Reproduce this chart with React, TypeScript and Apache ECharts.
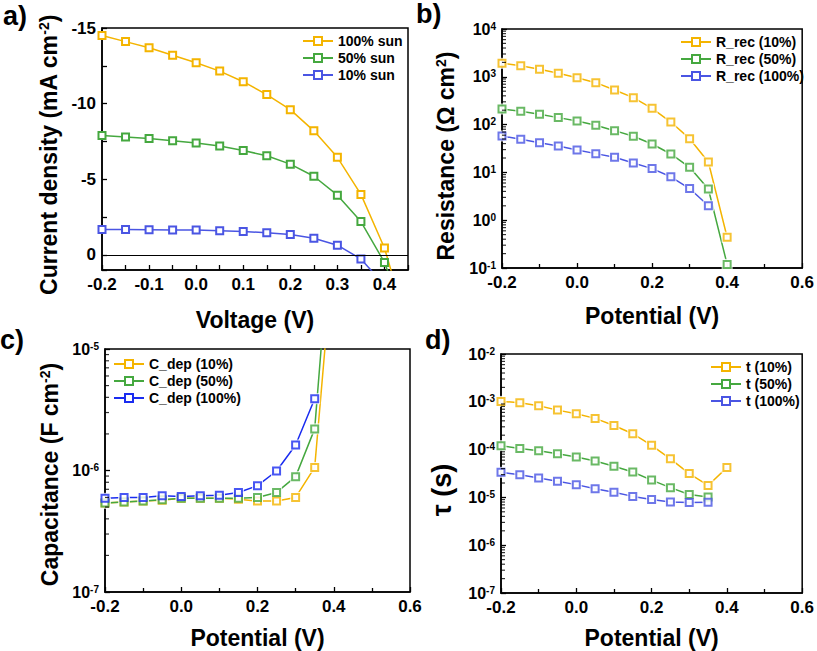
import React, { useEffect, useRef } from 'react';
import * as echarts from 'echarts';

const FONT = '"Liberation Sans", Arial, Helvetica, sans-serif';
const ORANGE = '#F4B400';
const GREEN = '#45A83F';
const BLUE = '#4A55E3';
const BLUE_C = '#1A2CF0';

// ---------- Panel a: J-V curves ----------
const voltageA = [-0.2, -0.15, -0.1, -0.05, 0, 0.05, 0.1, 0.15, 0.2, 0.25, 0.3, 0.35, 0.4, 0.45];
const jSun100 = [-14.5, -14.1, -13.7, -13.2, -12.7, -12.15, -11.45, -10.6, -9.6, -8.2, -6.45, -4.0, -0.45, 4.8];
const jSun50 = [-7.9, -7.8, -7.7, -7.55, -7.4, -7.2, -6.9, -6.55, -6.0, -5.2, -3.95, -2.2, 0.5, 4.6];
const jSun10 = [-1.68, -1.68, -1.66, -1.64, -1.64, -1.6, -1.55, -1.46, -1.35, -1.1, -0.64, 0.27, 2.0];
const legendA = ['100% sun', '50% sun', '10% sun'];

// ---------- Shared potentials ----------
const potential13 = [-0.2, -0.15, -0.1, -0.05, 0, 0.05, 0.1, 0.15, 0.2, 0.25, 0.3, 0.35, 0.4];
const potential12 = [-0.2, -0.15, -0.1, -0.05, 0, 0.05, 0.1, 0.15, 0.2, 0.25, 0.3, 0.35];

// ---------- Panel b: recombination resistance (Ω cm²) ----------
const rRec10 = [1914, 1710, 1433, 1183, 959, 754, 530, 366, 219, 113, 50.8, 16.5, 0.44];
const rRec50 = [212, 190, 164, 140, 119, 96.6, 74.7, 56.9, 39.3, 24.3, 12.8, 4.5, 0.119];
const rRec100 = [57.8, 49.2, 41.9, 35.6, 29.4, 24.7, 20.7, 15.7, 12.0, 8.1, 4.6, 2.0];
const legendB = ['R_rec (10%)', 'R_rec (50%)', 'R_rec (100%)'];

// ---------- Panel c: capacitance (F cm^-2) ----------
const cDep10 = [5.4e-7, 5.5e-7, 5.6e-7, 5.7e-7, 5.9e-7, 5.9e-7, 5.9e-7, 5.8e-7, 5.6e-7, 5.6e-7, 6.0e-7, 1.06e-6, 7e-5];
const cDep50 = [5.4e-7, 5.5e-7, 5.6e-7, 5.75e-7, 5.9e-7, 5.9e-7, 5.9e-7, 5.9e-7, 6.0e-7, 6.6e-7, 8.9e-7, 2.2e-6, 2e-4];
const cDep100 = [5.9e-7, 6.0e-7, 6.0e-7, 6.2e-7, 6.1e-7, 6.2e-7, 6.25e-7, 6.6e-7, 7.5e-7, 9.9e-7, 1.62e-6, 3.9e-6];
const legendC = ['C_dep (10%)', 'C_dep (50%)', 'C_dep (100%)'];

// ---------- Panel d: lifetime (s) ----------
const tau10 = [1.02e-3, 9.6e-4, 8.3e-4, 6.7e-4, 5.6e-4, 4.5e-4, 3.2e-4, 2.15e-4, 1.23e-4, 6.4e-5, 3.15e-5, 1.78e-5, 4.2e-5];
const tau50 = [1.21e-4, 1.06e-4, 9.5e-5, 8.2e-5, 7.0e-5, 5.8e-5, 4.5e-5, 3.4e-5, 2.3e-5, 1.6e-5, 1.15e-5, 1.02e-5];
const tau100 = [3.34e-5, 2.99e-5, 2.55e-5, 2.17e-5, 1.85e-5, 1.52e-5, 1.28e-5, 1.05e-5, 9.0e-6, 8.0e-6, 7.8e-6, 7.9e-6];
const legendD = ['t (10%)', 't (50%)', 't (100%)'];

// log axes: exponent ranges (tick labels 10^n)
const expRangeB = [-1, 4];
const expRangeC = [-7, -5];
const expRangeD = [-7, -2];
const logMinorFactors = [2, 3, 4, 5, 6, 7, 8, 9];

const black = '#000';
const axisLine = { show: true, onZero: false, lineStyle: { color: black, width: 1.5 } };
const axisTick = { show: true, inside: true, length: 5, lineStyle: { color: black, width: 1.3 } };
const labelBase = { color: black, fontSize: 17, fontWeight: 'bold', fontFamily: FONT };
const supStyle = { fontSize: 10, fontWeight: 'bold', fontFamily: FONT, color: black, verticalAlign: 'top' };
const nameStyle = {
  color: black,
  fontSize: 23,
  fontWeight: 'bold',
  fontFamily: FONT,
  rich: { s: { fontSize: 14, fontWeight: 'bold', fontFamily: FONT, color: black, verticalAlign: 'top' } },
};

const fmtTenth = (v: number) => {
  const r = Math.round(v * 100);
  if (r % 10 !== 0) return '';
  if (Math.abs(v) < 1e-9) return '0.0';
  return (r / 100).toFixed(1);
};

function xPotential(gi: number, nameGap: number) {
  return {
    type: 'value',
    gridIndex: gi,
    min: -0.2,
    max: 0.6,
    interval: 0.2,
    axisLine,
    axisTick,
    minorTick: { show: true, splitNumber: 2, length: 4, lineStyle: { color: black, width: 1.3 } },
    axisLabel: { ...labelBase, margin: 6, formatter: fmtTenth },
    splitLine: { show: false },
    minorSplitLine: { show: false },
    name: 'Potential (V)',
    nameLocation: 'middle',
    nameGap,
    nameTextStyle: nameStyle,
  };
}

function yLog(gi: number, range: number[], name: string, nameGap: number, extraName: any = {}) {
  return {
    type: 'value',
    gridIndex: gi,
    min: range[0],
    max: range[1],
    interval: 1,
    axisLine,
    axisTick,
    axisLabel: {
      ...labelBase,
      fontSize: 16,
      margin: 6,
      formatter: (v: number) => `10{s|${Math.round(v)}}`,
      rich: { s: supStyle },
    },
    splitLine: { show: false },
    name,
    nameLocation: 'middle',
    nameGap,
    nameTextStyle: { ...nameStyle, ...extraName },
  };
}

// log minor ticks (2..9 × 10^n) drawn as small marks on the left axis, placed through the axes
function minorLogTicks(gi: number, range: number[]) {
  const data: number[][] = [];
  for (let n = range[0]; n < range[1]; n++) {
    for (const k of logMinorFactors) data.push([-0.2, n + Math.log10(k)]);
  }
  return {
    type: 'scatter',
    name: '#minor' + gi,
    xAxisIndex: gi,
    yAxisIndex: gi,
    silent: true,
    clip: false,
    z: 6,
    data,
    symbol: 'rect',
    symbolSize: [4, 1.2],
    symbolOffset: [2, 0],
    itemStyle: { color: black },
  };
}

function gappedSeries(gi: number, name: string, xs: number[], vals: number[], color: string) {
  const data = xs.map((x, i) => [x, Math.log10(vals[i])]);
  return [
    {
      type: 'line',
      name,
      xAxisIndex: gi,
      yAxisIndex: gi,
      data,
      symbol: 'emptyRect',
      symbolSize: 7,
      showSymbol: false,
      lineStyle: { color, width: 1.5 },
      itemStyle: { color, borderWidth: 1.5 },
      z: 1,
      clip: true,
    },
    {
      type: 'scatter',
      name: name + '#halo',
      xAxisIndex: gi,
      yAxisIndex: gi,
      data,
      symbol: 'rect',
      symbolSize: 11,
      itemStyle: { color: '#fff' },
      silent: true,
      z: 2,
      clip: true,
    },
    {
      type: 'scatter',
      name: name + '#mark',
      xAxisIndex: gi,
      yAxisIndex: gi,
      data,
      symbol: 'emptyRect',
      symbolSize: 7,
      itemStyle: { color, borderWidth: 1.5 },
      silent: true,
      z: 3,
      clip: true,
    },
  ];
}

function plainSeries(gi: number, name: string, xs: number[], vals: number[], color: string, extra: any = {}) {
  return {
    type: 'line',
    name,
    xAxisIndex: gi,
    yAxisIndex: gi,
    data: vals.map((v, i) => [xs[i], v]),
    symbol: 'emptyRect',
    symbolSize: 7,
    showSymbol: true,
    lineStyle: { color, width: 1.5 },
    itemStyle: { color, borderWidth: 1.5 },
    clip: true,
    z: 3,
    ...extra,
  };
}

function legendAt(data: string[], left: number, top: number, fontSize: number) {
  return {
    data,
    left,
    top,
    orient: 'vertical',
    padding: 0,
    itemWidth: 30,
    itemHeight: 10,
    itemGap: 3,
    selectedMode: false,
    textStyle: { color: black, fontSize, fontWeight: 'bold', fontFamily: FONT, lineHeight: 14 },
  };
}

function panelLabel(text: string, x: number, y: number) {
  return {
    type: 'text',
    x,
    y,
    style: { text, fontSize: 27, fontWeight: 'bold', fontFamily: FONT, fill: black, verticalAlign: 'top' },
  };
}

export default function App() {
  const ref = useRef<HTMLDivElement>(null);

  useEffect(() => {
    if (!ref.current) return;
    const chart = echarts.init(ref.current, undefined, { renderer: 'svg' });

    const gridBox = { show: true, borderColor: black, borderWidth: 1.5, backgroundColor: 'transparent' };

    const option: any = {
      animation: false,
      backgroundColor: '#fff',
      grid: [
        { ...gridBox, left: 102, top: 28, width: 306, height: 242 },
        { ...gridBox, left: 502, top: 29, width: 302, height: 239 },
        { ...gridBox, left: 105, top: 349, width: 305, height: 243 },
        { ...gridBox, left: 501, top: 354, width: 302, height: 239 },
      ],
      xAxis: [
        {
          type: 'value',
          gridIndex: 0,
          min: -0.2,
          max: 0.45,
          interval: 0.05,
          axisLine,
          axisTick,
          axisLabel: { ...labelBase, margin: 6, formatter: fmtTenth },
          splitLine: { show: false },
          name: 'Voltage (V)',
          nameLocation: 'middle',
          nameGap: 38,
          nameTextStyle: nameStyle,
        },
        xPotential(1, 36),
        xPotential(2, 34),
        xPotential(3, 33),
      ],
      yAxis: [
        {
          type: 'value',
          gridIndex: 0,
          min: -15,
          max: 1,
          interval: 2.5,
          inverse: true,
          axisLine,
          axisTick,
          axisLabel: {
            ...labelBase,
            margin: 6,
            formatter: (v: number) => {
              const r = Math.round(v * 10) / 10;
              return r % 5 === 0 ? String(r === 0 ? 0 : r) : '';
            },
          },
          splitLine: { show: false },
          name: 'Current density (mA cm{s|-2})',
          nameLocation: 'middle',
          nameGap: 42,
          nameTextStyle: { ...nameStyle, padding: [0, 12, 0, 0] },
        },
        yLog(1, expRangeB, 'Resistance (Ω cm{s|2})', 45, { padding: [0, 15, 0, 0] }),
        yLog(2, expRangeC, 'Capacitance (F cm{s|-2})', 44, { padding: [0, 8, 0, 0] }),
        yLog(3, expRangeD, 'τ (s)', 46, { fontSize: 27, padding: [0, 33, 0, 0] }),
      ],
      legend: [
        legendAt(legendA, 302, 34, 14),
        legendAt(legendB, 680, 35, 14),
        legendAt(legendC, 113, 357, 14),
        legendAt(legendD, 710, 360, 14),
      ],
      graphic: [
        panelLabel('a)', 3, 2),
        panelLabel('b)', 416, 0),
        panelLabel('c)', 0, 326),
        panelLabel('d)', 425, 326),
      ],
      series: [
        plainSeries(0, legendA[0], voltageA, jSun100, ORANGE, {
          markLine: {
            silent: true,
            symbol: 'none',
            label: { show: false },
            lineStyle: { color: black, width: 1.2, type: 'solid' },
            data: [{ yAxis: 0 }],
          },
        }),
        plainSeries(0, legendA[1], voltageA, jSun50, GREEN),
        plainSeries(0, legendA[2], voltageA, jSun10, BLUE),

        ...gappedSeries(1, legendB[0], potential13, rRec10, ORANGE),
        ...gappedSeries(1, legendB[1], potential13, rRec50, GREEN),
        ...gappedSeries(1, legendB[2], potential12, rRec100, BLUE),
        minorLogTicks(1, expRangeB),

        ...gappedSeries(2, legendC[0], potential13, cDep10, ORANGE),
        ...gappedSeries(2, legendC[1], potential13, cDep50, GREEN),
        ...gappedSeries(2, legendC[2], potential12, cDep100, BLUE_C),
        minorLogTicks(2, expRangeC),

        ...gappedSeries(3, legendD[0], potential13, tau10, ORANGE),
        ...gappedSeries(3, legendD[1], potential12, tau50, GREEN),
        ...gappedSeries(3, legendD[2], potential12, tau100, BLUE),
        minorLogTicks(3, expRangeD),
      ],
    };

    chart.setOption(option);
    return () => chart.dispose();
  }, []);

  return <div ref={ref} style={{ position: 'absolute', left: 0, top: 0, width: 817, height: 651 }} />;
}
